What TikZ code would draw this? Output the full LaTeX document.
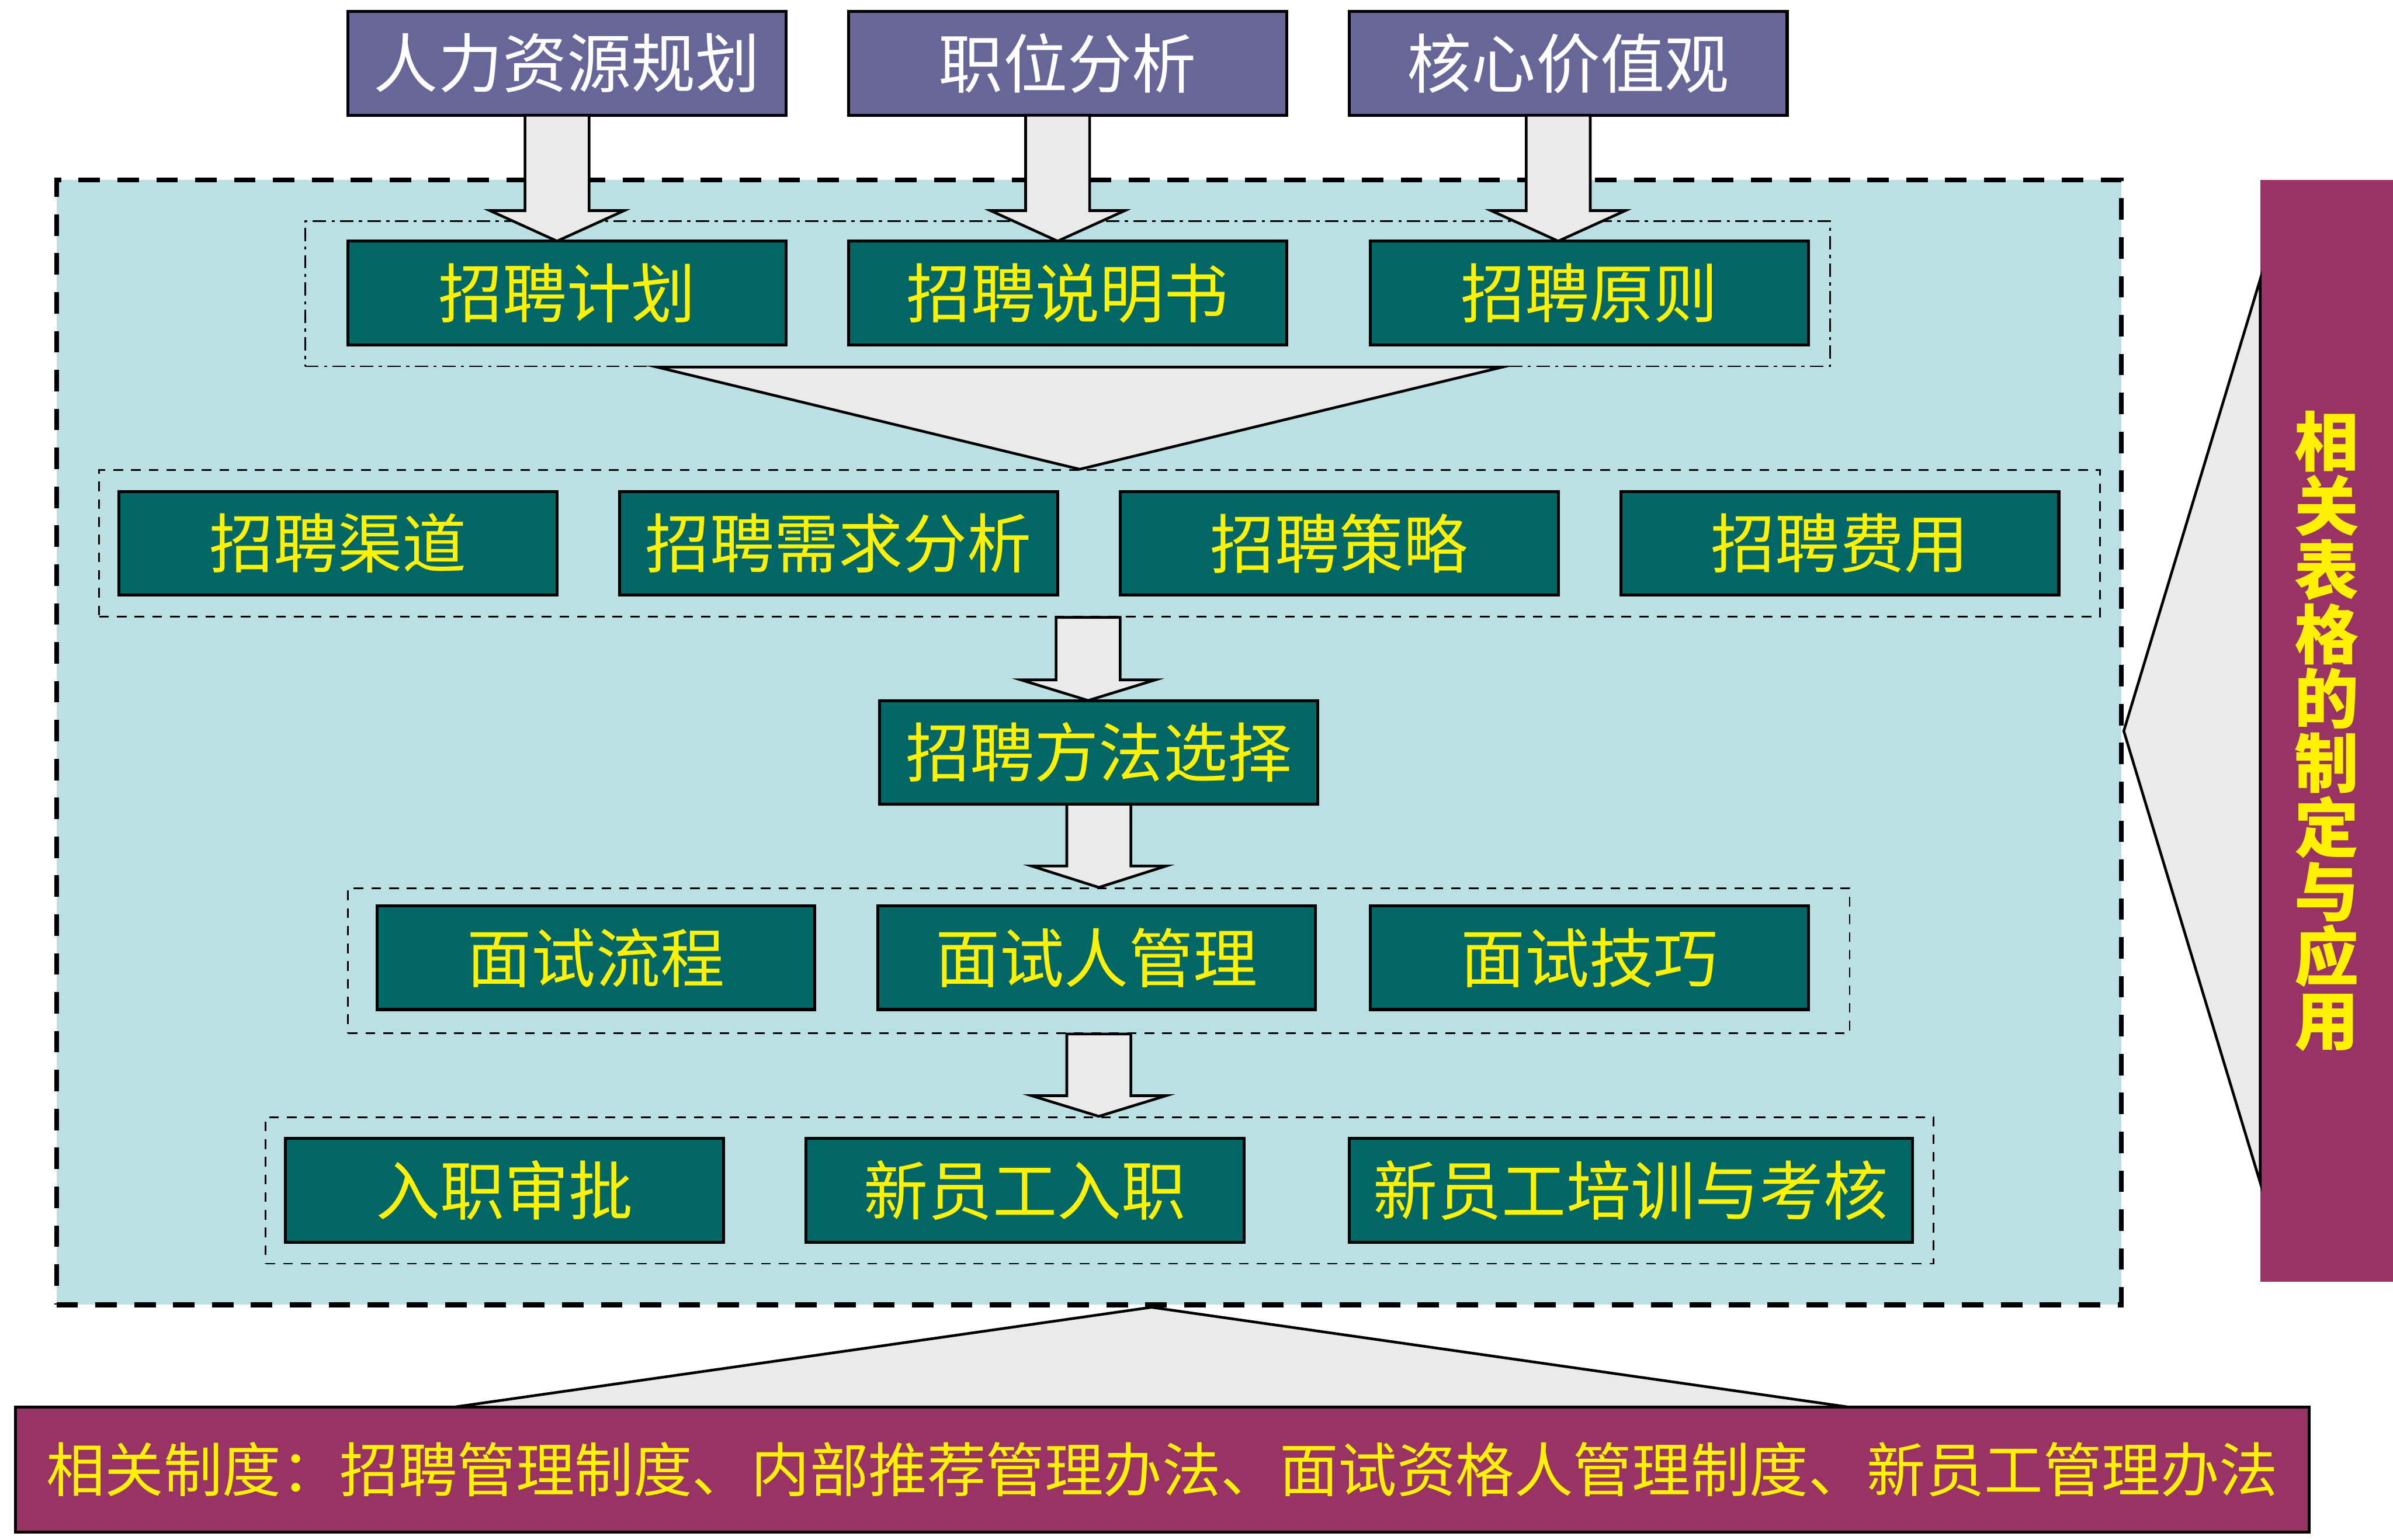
\documentclass[tikz,border=0pt]{standalone}
\usepackage{fontspec}
\setmainfont{Noto Sans CJK SC}
\usetikzlibrary{calc,fit,positioning}
\definecolor{hrpurple}{HTML}{666699}
\definecolor{hrteal}{HTML}{006666}
\definecolor{panelblue}{HTML}{BBE0E3}
\definecolor{arrgray}{HTML}{EAEAEA}
\definecolor{hrmaroon}{HTML}{993366}
\tikzset{
  src/.style={
    draw, rectangle, line width=1.1pt, fill=hrpurple, text=white, inner sep=0pt, outer sep=0pt,
    font=\fontsize{24pt}{24pt}\selectfont, minimum width=57.4mm, minimum height=13.6mm
  },
  stage/.style={
    draw, rectangle, line width=1.1pt, fill=hrteal, text=yellow, inner sep=0pt, outer sep=0pt,
    font=\fontsize{24pt}{24pt}\selectfont, minimum width=57.4mm, minimum height=13.6mm
  },
  panel/.style={
    draw, rectangle, line width=1.8pt, dash pattern=on 8pt off 6.5pt,
    fill=panelblue, inner sep=0pt
  },
  grp/.style={draw, rectangle, line width=0.6pt, dash pattern=on 3.6pt off 3pt, inner sep=0pt},
  grpdot/.style={draw, rectangle, line width=0.6pt, dash pattern=on 5pt off 2pt on 1.2pt off 2pt, inner sep=0pt},
  blockarr/.style={draw, line width=1pt, fill=arrgray},
  funnel/.style={draw, line width=1pt, fill=arrgray},
  sysbox/.style={
    rectangle, fill=hrmaroon, text=yellow, inner sep=0pt, outer sep=0pt, align=center
  },
}
% block arrow: #1 start, #2 target anchor, #3 head length
\newcommand\blockarrow[3]{%
  \coordinate (ba-s) at (#1);
  \coordinate (ba-t) at (ba-s |- #2);
  \draw[blockarr] ($(ba-s)+(-21,0)$) -- ($(ba-t)+(-21,-#3)$) -- ($(ba-t)+(-44,-#3)$)
    -- (ba-t) -- ($(ba-t)+(44,-#3)$) -- ($(ba-t)+(21,-#3)$) -- ($(ba-s)+(21,0)$) -- cycle;
}
\begin{document}
\begin{tikzpicture}[x=0.2mm, y=-0.2mm, node distance=8.2mm]
  \useasboundingbox (0,0) rectangle (1568,1009);
  % frames
  \node[panel, fit={(37,118) (1390,855)}] (panel) {};
  \node[grpdot, fit={(200,145) (1199,240)}] (g1) {};
  \node[grp, fit={(65,308) (1376,404)}] (g2) {};
  \node[grp, fit={(228,582) (1212,677)}] (g3) {};
  \node[grp, fit={(174,732) (1267,828)}] (g4) {};
  % inputs
  \node[src] (hr) at (371.5,41.5) {人力资源规划};
  \node[src, right=of hr] (post) {职位分析};
  \node[src, right=of post] (core) {核心价值观};
  % stages
  \node[stage] (plan) at (371.5,192) {招聘计划};
  \node[stage, right=of plan] (spec) {招聘说明书};
  \node[stage, right=11mm of spec] (principle) {招聘原则};
  \node[stage] (channel) at (221.5,356) {招聘渠道};
  \node[stage, right=of channel] (demand) {招聘需求分析};
  \node[stage, right=of demand] (strategy) {招聘策略};
  \node[stage, right=of strategy] (cost) {招聘费用};
  \node[stage] (method) at (720,493) {招聘方法选择};
  \node[stage] (flow) at (390.5,627.5) {面试流程};
  \node[stage, right=of flow] (interviewer) {面试人管理};
  \node[stage, right=7.2mm of interviewer] (skill) {面试技巧};
  \node[stage] (approve) at (330.5,780) {入职审批};
  \node[stage, right=10.8mm of approve] (entry) {新员工入职};
  \node[stage, right=13.8mm of entry, minimum width=73.8mm] (training) {新员工培训与考核};
  % arrows
  \blockarrow{$(hr.south)+(-6.5,0)$}{plan.north}{20}
  \blockarrow{$(post.south)+(-6.5,0)$}{spec.north}{20}
  \blockarrow{$(core.south)+(-6.5,0)$}{principle.north}{20}
  \coordinate (plan-tip) at ($(g1.south |- g2.north)+(8,0)$);
  \draw[funnel] (plan-tip) -- ($(plan-tip |- g1.south)+(-277,0)$) -- ($(plan-tip |- g1.south)+(277,0)$) -- cycle;
  \blockarrow{$(g2.south)+(-7.5,0)$}{method.north}{13.5}
  \blockarrow{method.south}{g3.north}{14}
  \blockarrow{g3.south}{g4.north}{13.5}
  % related rules and forms
  \node[sysbox, draw, line width=1.1pt, minimum width=300.6mm, minimum height=16.4mm,
    font=\fontsize{21.9pt}{24pt}\selectfont] (rules) at (761.5,963)
    {相关制度：招聘管理制度、内部推荐管理办法、面试资格人管理制度、新员工管理办法};
  \coordinate (rules-tip) at ($(rules.north |- panel.south)+(-7,0)$);
  \draw[funnel] (rules-tip) -- ($(rules-tip |- rules.north)+(-457,0)$) -- ($(rules-tip |- rules.north)+(457,0)$) -- cycle;
  \node[sysbox, minimum width=17.4mm, minimum height=144.4mm,
    font=\bfseries\fontsize{24pt}{24pt}\selectfont] (forms) at (1524.5,479)
    {相\\关\\表\\格\\的\\制\\定\\与\\应\\用};
  \draw[funnel] (panel.east |- forms.west) -- ($(forms.west)+(0,-296)$) -- ($(forms.west)+(0,296)$) -- cycle;
\end{tikzpicture}
\end{document}
